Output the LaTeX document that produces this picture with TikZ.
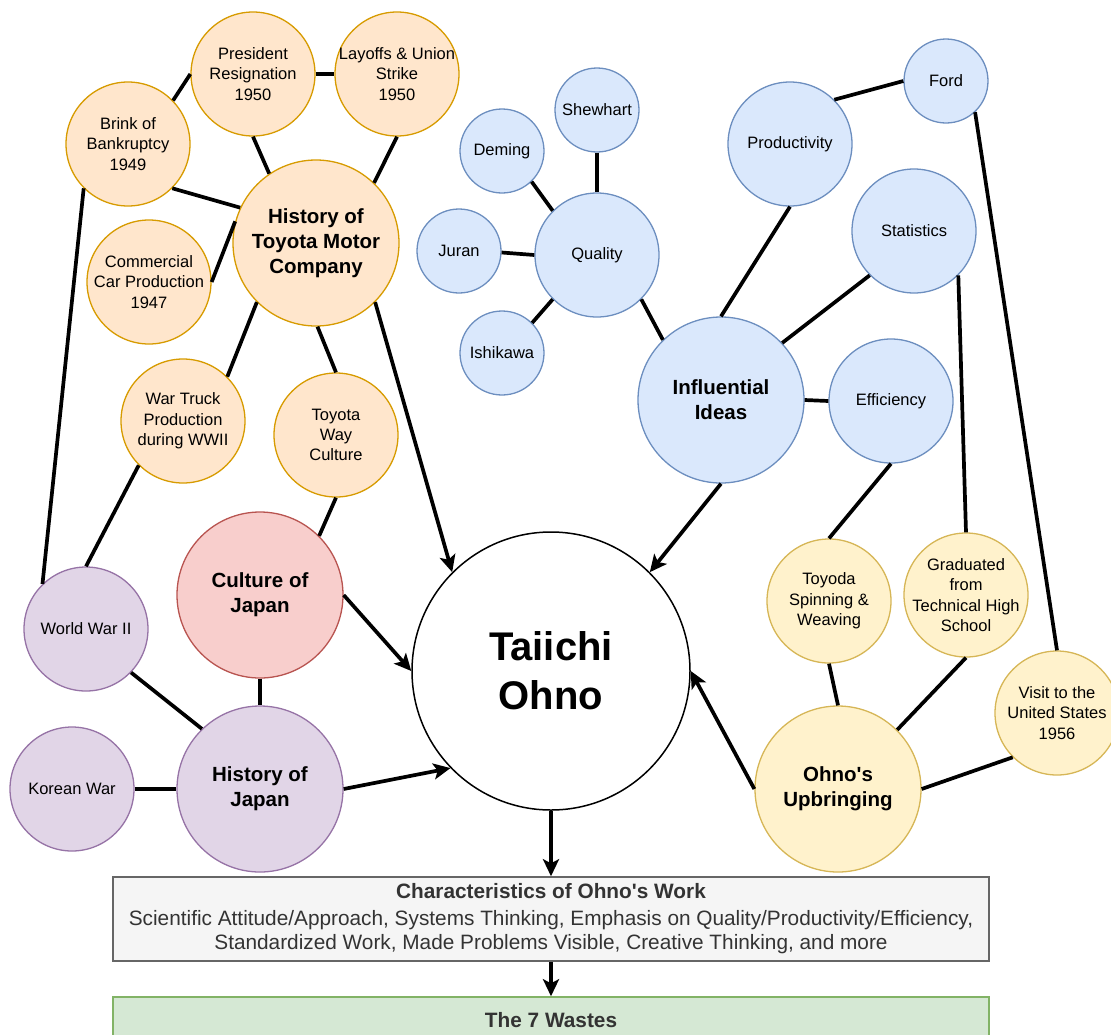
\documentclass[tikz,border=0pt]{standalone}
\usepackage{fontspec}
\setmainfont{Liberation Sans}
\usetikzlibrary{arrows.meta}

\definecolor{tyfill}{HTML}{FFE6CC}
\definecolor{tyline}{HTML}{D79B00}
\definecolor{idfill}{HTML}{DAE8FC}
\definecolor{idline}{HTML}{6C8EBF}
\definecolor{cjfill}{HTML}{F8CECC}
\definecolor{cjline}{HTML}{B85450}
\definecolor{hjfill}{HTML}{E1D5E7}
\definecolor{hjline}{HTML}{9673A6}
\definecolor{upfill}{HTML}{FFF2CC}
\definecolor{upline}{HTML}{D6B656}
\definecolor{wkfill}{HTML}{F5F5F5}
\definecolor{wkline}{HTML}{666666}
\definecolor{wsfill}{HTML}{D5E8D4}
\definecolor{wsline}{HTML}{82B366}
\definecolor{wktext}{HTML}{333333}

\begin{document}
\begin{tikzpicture}[x=1pt,y=-1pt,
    bub/.style={circle, draw, line width=1.3pt, inner sep=0pt},
    mid/.style={bub, minimum size=124pt},
    sml/.style={bub, minimum size=84pt},
    big/.style={bub, minimum size=166pt},
    txt/.style={align=center, font=\fontsize{16.5}{20.3}\selectfont},
    bold/.style={align=center, font=\bfseries\fontsize{20.5}{24.7}\selectfont},
    toyota/.style={fill=tyfill, draw=tyline},
    idea/.style={fill=idfill, draw=idline},
    culture/.style={fill=cjfill, draw=cjline},
    japan/.style={fill=hjfill, draw=hjline},
    youth/.style={fill=upfill, draw=upline},
    link/.style={line width=3.7pt},
    flow/.style={link, -{Stealth[length=17pt,width=16pt,inset=4pt]}},
    panel/.style={line width=1.5pt, minimum width=876pt, align=center, text=wktext}]
  \useasboundingbox (0,0) rectangle (1111,1034);

  % history of toyota
  \node[mid, toyota, label={[txt]center:President\\Resignation\\1950}] (pres) at (253,74) {};
  \node[mid, toyota, label={[txt]center:Layoffs \& Union\\Strike\\1950}] (layoff) at (397,74) {};
  \node[mid, toyota, label={[txt]center:Brink of\\Bankruptcy\\1949}] (brink) at (128,144) {};
  \node[big, toyota, label={[bold]center:History of\\Toyota Motor\\Company}] (hstoyota) at (316,243) {};
  \node[mid, toyota, label={[txt]center:Commercial\\Car Production\\1947}] (commcar) at (149,282) {};
  \node[mid, toyota, label={[txt]center:War Truck\\Production\\during WWII}] (wartruck) at (183,421) {};
  \node[mid, toyota, label={[txt]center:Toyota\\Way\\Culture}] (tyway) at (336,435) {};

  % japan
  \node[big, culture, label={[bold]center:Culture of\\Japan}] (culture) at (260,595) {};
  \node[mid, japan, label={[txt]center:World War II}] (ww2) at (86,629) {};
  \node[big, japan, label={[bold]center:History of\\Japan}] (hsjapan) at (260,789) {};
  \node[mid, japan, label={[txt]center:Korean War}] (korea) at (72,789) {};

  % ideas
  \node[sml, idea, label={[txt]center:Shewhart}] (shewhart) at (597,110) {};
  \node[sml, idea, label={[txt]center:Deming}] (deming) at (502,151) {};
  \node[sml, idea, label={[txt]center:Juran}] (juran) at (459,251) {};
  \node[mid, idea, label={[txt]center:Quality}] (quality) at (597,255) {};
  \node[sml, idea, label={[txt]center:Ishikawa}] (ishikawa) at (502,353) {};
  \node[big, idea, label={[bold]center:Influential\\Ideas}] (ideas) at (721,400) {};
  \node[mid, idea, label={[txt]center:Productivity}] (product) at (790,144) {};
  \node[sml, idea, label={[txt]center:Ford}] (ford) at (946,81) {};
  \node[mid, idea, label={[txt]center:Statistics}] (stats) at (914,231) {};
  \node[mid, idea, label={[txt]center:Efficiency}] (efficiency) at (891,401) {};

  % upbringing
  \node[mid, youth, label={[txt]center:Toyoda\\Spinning \&\\Weaving}] (spinning) at (829,601) {};
  \node[mid, youth, label={[txt]center:Graduated\\from\\Technical High\\School}] (graduated) at (966,595) {};
  \node[mid, youth, label={[txt]center:Visit to the\\United States\\1956}] (visit) at (1057,713) {};
  \node[big, youth, label={[bold]center:Ohno\textquotesingle s\\Upbringing}] (upbring) at (838,789) {};

  \node[bub, minimum size=278pt, fill=white, line width=1.5pt,
    label={[align=center, font=\bfseries\fontsize{40}{49}\selectfont]center:Taiichi\\Ohno}] (ohno) at (551,671) {};

  \node[panel, draw=wkline, fill=wkfill, minimum height=84pt,
    font=\fontsize{20.8}{24.5}\selectfont] (work) at (551,919)
    {\textbf{Characteristics of Ohno\textquotesingle s Work}\\[2pt]
     Scientific Attitude/Approach, Systems Thinking, Emphasis on Quality/Productivity/Efficiency,\\
     Standardized Work, Made Problems Visible, Creative Thinking, and more};
  \node[panel, draw=wsline, fill=wsfill, minimum height=46pt,
    font=\bfseries\fontsize{20.8}{24.5}\selectfont] (wastes) at (551,1020) {The 7 Wastes};

  % connectors
  \draw[link] (brink.44) -- (pres.180);
  \draw[link] (pres.0) -- (layoff.180);
  \draw[link] (pres.270) -- (hstoyota.124);
  \draw[link] (layoff.270) -- (hstoyota.46);
  \draw[link] (brink.315) -- (hstoyota.155);
  \draw[link] (commcar.0) -- (hstoyota.165);
  \draw[link] (hstoyota.225) -- (wartruck.45);
  \draw[link] (hstoyota.271) -- (tyway.90);
  \draw[flow] (hstoyota.315) -- (ohno.135);
  \draw[link] (brink.225) -- (ww2.134);
  \draw[link] (wartruck.225) -- (ww2.90);
  \draw[link] (tyway.270) -- (culture.45);
  \draw[flow] (culture.0) -- (ohno.180);
  \draw[link] (culture.270) -- (hsjapan.90);
  \draw[link] (ww2.316) -- (hsjapan.134);
  \draw[link] (korea.0) -- (hsjapan.180);
  \draw[flow] (hsjapan.0) -- (ohno.224);
  \draw[link] (shewhart.270) -- (quality.90);
  \draw[link] (deming.314) -- (quality.135);
  \draw[link] (juran.-2) -- (quality.180);
  \draw[link] (ishikawa.45) -- (quality.225);
  \draw[link] (quality.315) -- (ideas.134);
  \draw[link] (product.270) -- (ideas.90);
  \draw[link] (stats.225) -- (ideas.43);
  \draw[link] (efficiency.180) -- (ideas.0);
  \draw[link] (product.45) -- (ford.180);
  \draw[link] (ford.313) -- (visit.90);
  \draw[link] (stats.315) -- (graduated.90);
  \draw[link] (efficiency.270) -- (spinning.90);
  \draw[flow] (ideas.270) -- (ohno.45);
  \draw[link] (spinning.270) -- (upbring.90);
  \draw[link] (graduated.270) -- (upbring.45);
  \draw[link] (visit.225) -- (upbring.0);
  \draw[flow] (upbring.180) -- (ohno.0);
  \draw[flow] (ohno.270) -- (work.north);
  \draw[flow] (work.south) -- (wastes.north);
\end{tikzpicture}
\end{document}
